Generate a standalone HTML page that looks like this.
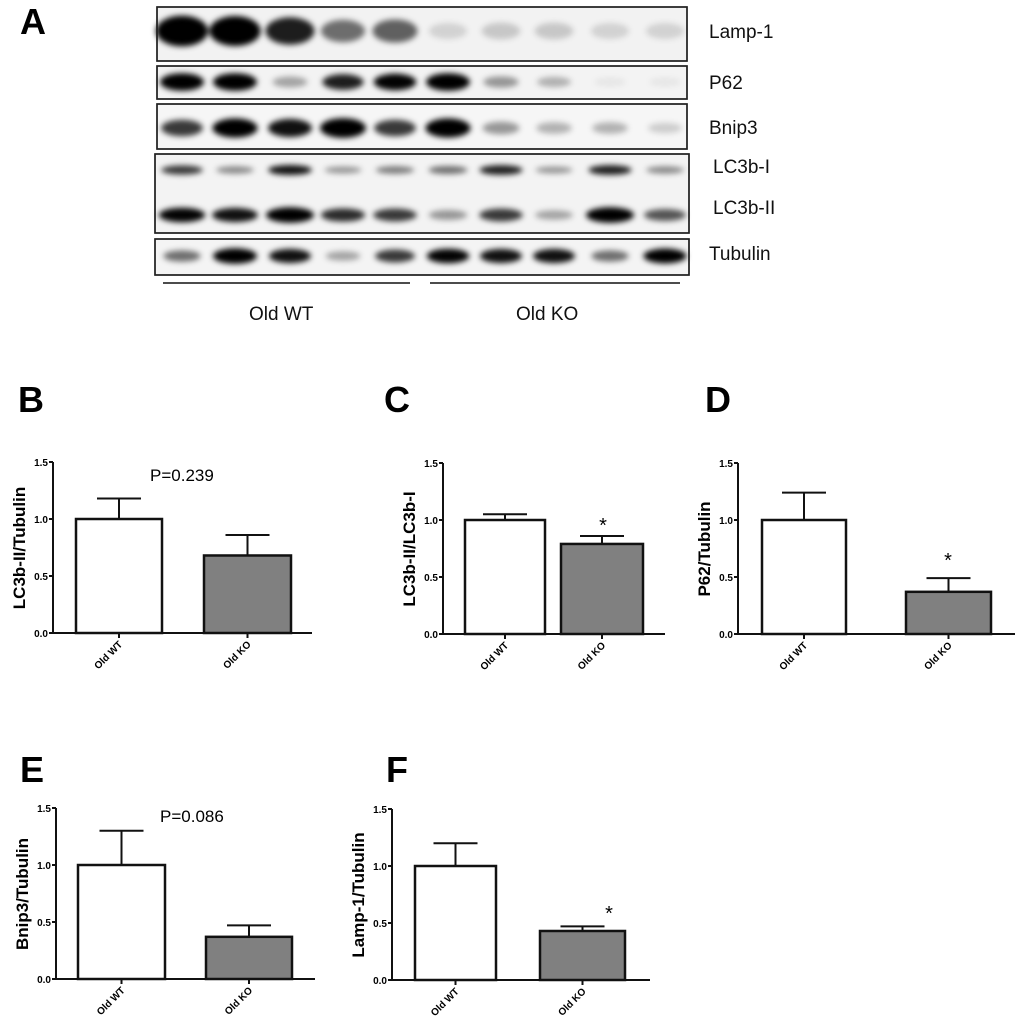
<!DOCTYPE html>
<html><head><meta charset="utf-8"><style>
body{margin:0;background:#fff}
svg{display:block}
text{font-family:"Liberation Sans",Arial,sans-serif}
.t{font-size:10px;font-weight:bold}
.yl{font-size:17px;font-weight:bold}
.L{font-size:36px;font-weight:bold}
.bl{font-size:19px}
</style></head><body>
<svg width="1020" height="1035" viewBox="0 0 1020 1035" xmlns="http://www.w3.org/2000/svg">
<defs><filter id="bl" x="-50%" y="-100%" width="200%" height="300%"><feGaussianBlur stdDeviation="3"/></filter></defs>
<rect width="1020" height="1035" fill="#fff"/>
<text class="L" x="20" y="34">A</text>
<g fill="none" stroke="#222" stroke-width="1.5">
<rect x="157" y="7" width="530" height="54" fill="#f2f2f2"/>
<rect x="157" y="66" width="530" height="33" fill="#f3f3f3"/>
<rect x="157" y="104" width="530" height="45" fill="#f6f6f6"/>
<rect x="155" y="154" width="534" height="79" fill="#f3f3f3"/>
<rect x="155" y="239" width="534" height="36" fill="#f4f4f4"/>
</g>
<g id="bands" filter="url(#bl)"></g>
<g fill="none" stroke="#222" stroke-width="1.5">
<rect x="157" y="7" width="530" height="54"/>
<rect x="157" y="66" width="530" height="33"/>
<rect x="157" y="104" width="530" height="45"/>
<rect x="155" y="154" width="534" height="79"/>
<rect x="155" y="239" width="534" height="36"/>
</g>
<g class="bl" fill="#111">
<text x="709" y="38">Lamp-1</text>
<text x="709" y="89">P62</text>
<text x="709" y="134">Bnip3</text>
<text x="713" y="173">LC3b-I</text>
<text x="713" y="214">LC3b-II</text>
<text x="709" y="260">Tubulin</text>
<text x="249" y="320">Old WT</text>
<text x="516" y="320">Old KO</text>
</g>
<line x1="163" y1="283" x2="410" y2="283" stroke="#111" stroke-width="1.5"/>
<line x1="430" y1="283" x2="680" y2="283" stroke="#111" stroke-width="1.5"/>
<g id="charts"></g>
</svg>
<script>
const NS="http://www.w3.org/2000/svg";
function el(p,t,a,txt){const e=document.createElementNS(NS,t);for(const k in a)e.setAttribute(k,a[k]);if(txt!==undefined)e.textContent=txt;p.appendChild(e);return e;}
const lanes=[182,235,290,343,395,448,501,554,610,665];
const rows=[
 [31,14,[1,.95,.8,.5,.55,.12,.16,.16,.12,.12],26],
 [82,8,[1,1,.3,.8,.9,1,.35,.25,.05,.05],22],
 [128,9,[.7,.95,.85,1,.7,.95,.35,.25,.25,.15],23],
 [170,5,[.7,.4,.85,.35,.45,.5,.8,.35,.8,.4],23],
 [215,7,[.9,.85,1,.75,.7,.35,.7,.3,1,.6],24],
 [256,7,[.5,1,.85,.3,.7,.9,.85,.85,.5,.95],22]];
const B=document.getElementById('bands');
rows.forEach(r=>r[2].forEach((v,i)=>{el(B,'ellipse',{cx:lanes[i],cy:r[0],rx:r[3]*(0.7+0.3*v),ry:r[1]*(0.5+0.6*v),fill:'#000','fill-opacity':Math.min(1,v*1.1)});}));
const C=document.getElementById('charts');
function chart(o){
 const s=114,y0=o.y0,ax=o.ax;
 el(C,'text',{class:'L',x:o.lx,y:o.ly},o.letter);
 const g=el(C,'g',{stroke:'#111','stroke-width':2,fill:'none'});
 el(g,'line',{x1:ax,y1:y0-171,x2:ax,y2:y0+1});
 el(g,'line',{x1:ax,y1:y0,x2:o.xe,y2:y0});
 [0,.5,1,1.5].forEach(v=>{el(g,'line',{x1:ax-4,y1:y0-v*s,x2:ax,y2:y0-v*s});el(C,'text',{class:'t','text-anchor':'end',x:ax-5,y:y0-v*s+4},v.toFixed(1));});
 o.bars.forEach((b,i)=>{
  const [x1,x2,v,e]=b,cx=(x1+x2)/2;
  el(g,'line',{x1:cx,y1:y0-v*s,x2:cx,y2:y0-e*s});
  el(g,'line',{x1:cx-22,y1:y0-e*s,x2:cx+22,y2:y0-e*s});
  el(g,'rect',{x:x1,y:y0-v*s,width:x2-x1,height:v*s,fill:i?'#808080':'#fff','stroke-width':2.5});
  el(g,'line',{x1:cx,y1:y0,x2:cx,y2:y0+5});
  el(C,'text',{class:'t','text-anchor':'end',transform:`translate(${cx+4},${y0+12}) rotate(-45)`},i?'Old KO':'Old WT');
 });
 el(C,'text',{class:'yl','text-anchor':'middle',transform:`translate(${ax-28},${y0-85}) rotate(-90)`},o.ylab);
 if(o.p)el(C,'text',{x:o.p[0],y:o.p[1],'font-size':'17px'},o.p[2]);
 if(o.star)el(C,'text',{x:o.star[0],y:o.star[1],'font-size':'20px','text-anchor':'middle'},'*');
}
chart({letter:'B',lx:18,ly:412,ax:53,y0:633,xe:312,bars:[[76,162,1,1.18],[204,291,.68,.86]],ylab:'LC3b-II/Tubulin',p:[150,481,'P=0.239']});
chart({letter:'C',lx:384,ly:412,ax:443,y0:634,xe:665,bars:[[465,545,1,1.05],[561,643,.79,.86]],ylab:'LC3b-II/LC3b-I',star:[603,532]});
chart({letter:'D',lx:705,ly:412,ax:738,y0:634,xe:1015,bars:[[762,846,1,1.24],[906,991,.37,.49]],ylab:'P62/Tubulin',star:[948,567]});
chart({letter:'E',lx:20,ly:782,ax:56,y0:979,xe:315,bars:[[78,165,1,1.3],[206,292,.37,.47]],ylab:'Bnip3/Tubulin',p:[160,822,'P=0.086']});
chart({letter:'F',lx:386,ly:782,ax:392,y0:980,xe:650,bars:[[415,496,1,1.2],[540,625,.43,.47]],ylab:'Lamp-1/Tubulin',star:[609,920]});
</script>
</body></html>
